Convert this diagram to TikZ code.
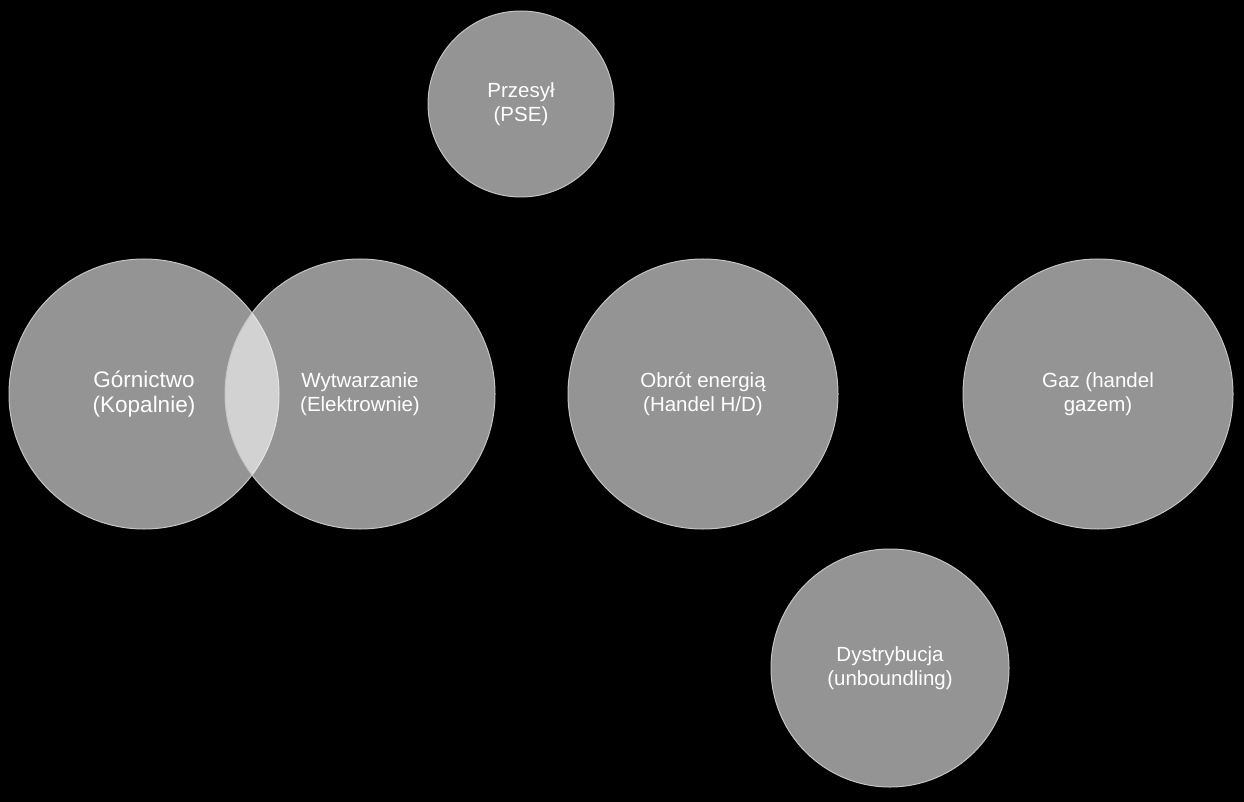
\documentclass[tikz,border=0pt]{standalone}
\usepackage{fontspec}
\setmainfont{Liberation Sans}
\usetikzlibrary{positioning}

\tikzset{
    area/.style={circle, draw=white!77!black, line width=1pt, fill=white, fill opacity=0.58, text opacity=1, text=white, align=center, inner sep=0pt, font=\fontsize{20.5}{23.5}\selectfont},
    bigarea/.style={area, minimum size=270pt},
}

\begin{document}
\begin{tikzpicture}[x=1pt, y=-1pt]
    % background
    \fill[black] (0,0) rectangle (1244,802);

    \node [bigarea, font=\fontsize{22.5}{25}\selectfont] (gornictwo) at (144,394) {Górnictwo\\(Kopalnie)};
    \node [bigarea, right=-55pt of gornictwo] (wytwarzanie) {Wytwarzanie\\(Elektrownie)};
    \node [bigarea, right=72pt of wytwarzanie] (obrot) {Obrót energią\\(Handel H/D)};
    \node [bigarea, right=124pt of obrot] (gaz) {Gaz (handel\\gazem)};

    \node [area, minimum size=186pt] (przesyl) at (521,104) {Przesył\\(PSE)};
    \node [area, minimum size=238pt] (dystrybucja) at (890,668) {Dystrybucja\\(unboundling)};
\end{tikzpicture}
\end{document}
